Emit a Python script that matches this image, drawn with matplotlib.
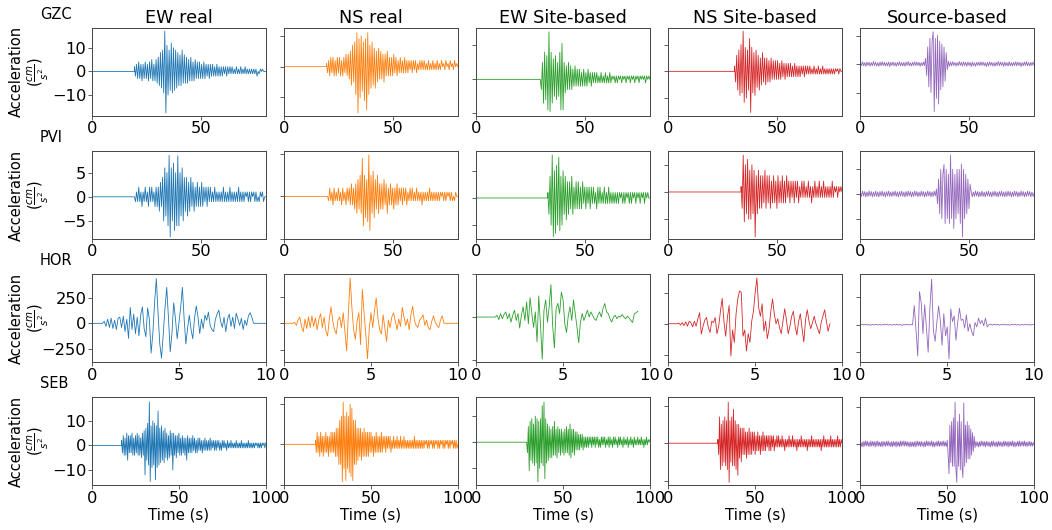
import numpy as np
import matplotlib.pyplot as plt

stations = ['GZC', 'PVI', 'HOR', 'SEB']
columns = ['EW real', 'NS real', 'EW Site-based', 'NS Site-based', 'Source-based']
colors = ['tab:blue', 'tab:orange', 'tab:green', 'tab:red', 'tab:purple']

x_end = [80, 80, 10, 100]
x_ticks = [[0, 50], [0, 50], [0, 5, 10], [0, 50, 100]]
y_step = [[10, 10, 10, 10, 10],
          [5, 10, 5, 5, 5],
          [250, 250, 250, 250, 250],
          [10, 10, 10, 10, 10]]
y_lims = [[(-18.7, 18.3), (-15.9, 12.5), (-10.7, 15.1), (-16.6, 16.2), (-18.1, 12.6)],
          [(-8.7, 9.45), (-8.4, 10.7), (-7.5, 8.6), (-8.6, 7.5), (-9.1, 8.7)],
          [(-375, 478), (-363, 462), (-262, 209), (-306, 397), (-337, 458)],
          [(-16.1, 19.6), (-10.1, 11.7), (-16.4, 17.2), (-11.1, 12.2), (-11, 12.5)]]

# ---- GZC (cm/s^2), samples every 0.5 s ----
gzc_ew = [2,-2,3,-3,4,-3,3,-4,3,-3, 4,-3,3,-4,4,-3,5,-4,3,-4,
          5,-5,6,-6,8,-7,9,-9,17,-17.5, 11,-10,9,-8,12,-9,10,-8,9,-7,
          8,-6,7,-6,9,-5,7,-5,6,-5, 5,-4,6,-4,4,-4,5,-3,4,-3,
          4,-3,3,-3,4,-3,3,-2,3,-3, 3,-2,3,-2,2,-2,3,-2,2,-2,
          2,-2,2,-1,2,-2,2,-1,2,-1, 2,-1,1,-1,2,-1,1,-1,2,-1,
          1,-1,2,-1,1,-1,1,-1,1,-1, 1,-1,1,-2,0,-1,1,0,1,0, 0,0]
gzc_ns = [1,-2,2,-3,3,-2,3,-3,2,-3, 3,-2,3,-3,2,-3,3,-2,4,-3,
          4,-4,5,-6,7,-5,8,-9,11,-15, 9,-10,10,-8,8,-11,9,-14,11,-9,
          7,-7,8,-6,6,-7,5,-5,6,-4, 5,-4,4,-5,4,-3,5,-3,3,-3,
          3,-3,4,-2,3,-3,2,-2,3,-2, 2,-2,3,-2,2,-2,2,-1,2,-2,
          2,-1,2,-2,1,-1,2,-1,2,-1, 2,-1,1,-1,2,-1,1,-1,2,-1,
          1,-1,2,-1,1,-1,2,0,1,-1, 2,0,1,-1,2,0,1,-1,2,0,1,0]
gzc_ews = [0,-3,5,-7,8,-6,7,-9,14,-9.5, 8,-7,6,-5,7,-6,5,-5,8,-9,
           10.6,-9,5,-4,4,-3,5,-3,4,-3, 3,-2,4,-2,3,-2,3,-2,2,-2,
           3,-2,2,-2,3,-1,2,-2,2,-1, 2,-1,2,-1,1,-1,2,-1,1,-1,
           2,-1,1,-1,2,-1,1,0,1,-1, 1,-1,1,0,1,-1,1,0,1,-1,
           1,0,1,-1,1,0,1,-1,1,0, 1,-1,1,0,1,0,1,-1,1,0,1,0]
gzc_nss = [2,-4,6,-7,8,-9,10,-8,15,-11.6, 9,-10,8,-7,12.3,-15.4,9,-8,7,-9,
           8,-6,6,-7,5,-5,7,-4,5,-5, 5,-4,4,-4,5,-3,4,-3,4,-3,
           4,-3,3,-3,4,-2,3,-3,3,-2, 3,-2,3,-2,2,-2,3,-2,2,-2,
           2,-2,2,-1,2,-2,2,-1,2,-1, 2,-1,1,-1,2,-1,1,-1,2,-1,
           1,-1,2,-1,1,-1,1,-1,1,-1, 1,-1,1,-1,1,0,1,-1,1,0,0]
gzc_src = [.6,-.5,.8,-.6,.5,-.8,.7,-.5,.6,-.7, .5,-.6,.9,-.5,.6,-.7,.5,-.8,.7,-.6,
           .8,-.5,.6,-.7,.5,-.6,.7,-.9,.6,-.5, .7,-.6,.5,-.8,.6,-.5,.8,-.6,.5,-.7,
           .6,-.8,.7,-.5,.9,-.6,.5,-.7,.6,-.5, .8,-.6,.7,-.5,.6,-.8,.5,-.6,.7,-.6,
           2,-4,6,-8,9,-10,8,11.3,-16.7,9, -12,10,-14,8,-9,7,-8,6,-6,4,
           -2,1,-.8,.7,-.6,.8,-.5,.6,-.7,.5, -.6,.9,-.5,.6,-.7,.8,-.5,.6,-.8,.7,
           -.5,.6,-.9,.7,-.6,.5,-.8,.6,-.5,.7, -.6,.8,-.5,.7,-.6,.5,-.9,.6,-.7,.8,
           -.5,.6,-.7,.5,-.8,.6,-.5,.9,-.6,.7, -.5,.6,-.8,.7,-.6,.5,-.7,.8,-.6,.5,
           -.7,.6,-.5,.8,-.6,.7,-.5,.6,-.9,.5, -.6,.7,-.5,.8,-.6,.5,-.7,.6,-.5,.7, -.4]

# ---- PVI (cm/s^2), samples every 0.5 s ----
pvi_ew = [0,-1,1,-1,2,-1,1,-2,1,-1, 2,-1,1,-2,2,-1,2,-1,1,-2,
          2,-2,2,-3,3,-2,4,-5,6,-4, 5,-6,8.6,-8.3,6,-5,7,-7,5,-6,
          8.5,-6,5,-4,6,-5,4,-3,4,-4, 3,-3,4,-2,3,-3,2,-2,3,-2,
          2,-2,3,-2,2,-1,2,-2,2,-1, 2,-1,1,-1,2,-1,1,-1,1,-1,
          1,-1,2,-1,1,-1,1,-1,2,-1, 1,-1,1,-1,1,-1,2,-1,1,-1,
          1,-1,1,0,1,-1,1,-1,1,0, 1,-1,1,-1,0,-1,1,0,1,-1,0,0]
pvi_ns = [0,-1,2,-1,1,-2,2,-1,1,-1, 2,-1,1,-2,2,-1,1,-2,2,-1,
          2,-2,3,-2,2,-3,3,-4,4,-3, 5,-4,9,-7,5,-5,4,-6,9.8,-8,
          5,-4,6,-5,4,-3,5,-4,3,-3, 3,-3,4,-2,3,-4,2,-2,3,-2,
          2,-3,2,-2,3,-2,2,-1,2,-2, 2,-1,2,-2,1,-1,2,-1,2,-1,
          1,-1,2,-1,1,-1,1,-2,1,-1, 1,-1,1,-1,2,-1,1,-1,1,-1,
          1,-1,1,-1,1,0,1,-1,1,-1, 1,0,1,-1,1,-1,0,-1,1,0,0]
pvi_ews = [1,-3,4,-5,7.9,-7.1,5,-6.5,6,-5, 7.5,-6,4,-5,5,-3,4,-4,3,-3,
           3,-2,4,-3,2,-2,3,-2,3,-2, 2,-2,3,-1,2,-2,2,-1,2,-2,
           2,-1,2,-1,1,-2,2,-1,2,-1, 1,-1,2,-1,1,-1,2,-1,1,-1,
           1,-1,1,-1,1,-1,1,0,1,-1, 1,-1,1,0,1,-1,1,-1,1,0,
           1,-1,1,0,1,-1,1,0,1,-1, 1,0,1,0,0]
pvi_nss = [1,-3,6.75,-5.5,5,-4,6,-5,4,-5, 5,-4,4,-8.25,3,-4,4,-3,3,-3,
           3,-2,4,-3,3,-2,3,-3,2,-2, 3,-2,2,-3,3,-2,2,-2,3,-2,
           2,-2,3,-1,2,-2,2,-1,2,-2, 2,-1,2,-2,1,-1,2,-1,2,-1,
           1,-1,2,-1,1,-2,1,-1,2,-1, 1,-1,2,-1,1,-1,2,-1,1,-1,
           1,-1,1,-1,2,-1,1,0,1,-1, 1,0,1,0]
pvi_src = [.4,-.5,.6,-.4,.5,-.6,.4,-.5,.6,-.4, .5,-.6,.4,-.5,.6,-.5,.4,-.6,.5,-.4,
           .6,-.5,.4,-.6,.5,-.4,.6,-.5,.4,-.5, .5,-.4,.6,-.5,.4,-.6,.5,-.4,.6,-.5,
           .4,-.6,.5,-.5,.6,-.4,.5,-.6,.4,-.5, .6,-.4,.5,-.6,.4,-.5,.6,-.4,.5,-.6,
           .4,-.5,.6,-.4,.5,-.6,.4,-.5,.6,-.4,
           1,-2,3,-4,5,-5,4,6,-6,5, -5,4,-6,7.9,-5,5,-7,4,-5,5,
           -4,5,-6,6.1,-8.7,5,-5,4,-4,3, -3,2,
           .5,-.6,.4,-.5,.6,-.4,.5,-.6,.4,-.5, .6,-.5,.4,-.6,.5,-.4,.6,-.5,.4,-.6,
           .5,-.4,.6,-.5,.4,-.6,.5,-.4,.6,-.5, .4,-.6,.5,-.5,.6,-.4,.5,-.6,.4,-.5,
           .6,-.4,.5,-.6,.4,-.5,.6,-.4,.5,-.6, .4,-.5,.6,-.4,.5,-.6,.4,-.5,.2]

# ---- HOR (cm/s^2), samples every 0.1 s ----
hor_ew = [0,20,-30,40,-40,50,-50,30,-60,50, 60,-40,70,-80,40,-146,155,-60,90,-100,
          60,-120,80,160,-50,-130,150,40,-290,-100, 200,436,100,-200,-339,-100,150,350,50,-276,
          -100,200,50,-150,0,150,350,50,-200,-50, 80,-60,-150,50,170,60,-100,40,-50,80,
          30,110,-20,-60,-80,40,90,130,20,-40, 60,-80,40,90,-30,60,-50,100,40,-20,
          50,-60,30,-20,70,104,60,0]
hor_ns = [0,10,-20,30,60,-30,-80,40,-50,60, -40,70,-30,50,-60,40,90,-40,60,-70,
          -120,40,156,20,-60,-100,30,60,-40,100, -80,-260,100,427,150,-60,-150,20,100,-200,
          320,100,-100,-334,-50,100,-40,120,240,50, -60,-100,80,-50,-170,30,-40,60,100,20,
          -60,40,-30,150,60,-20,40,-60,80,160, 30,-20,-40,30,50,80,-20,30,-40,-60,
          20,70,10,-20,-40,30,70,0]
hor_ews = [0,10,-15,20,-10,15,30,-10,20,-30, 10,40,-20,20,-64,10,60,-20,88,-40,
           114,20,-60,30,-145,123,-50,-246,40,100, -30,60,189,-50,-180,50,80,20,146,100,
           -40,-90,10,60,-20,100,20,-60,-150,-30, 20,-20,10,40,0,30,10,-10,-20,10,
           30,0,50,79,30,20,-10,-30,0,10, -10,5,0,15,0,-10,5,-5,-20,-32,
           20,25,34]
hor_nss = [0,5,-10,10,-15,15,-20,20,10,-25, 20,-20,40,88,-83,-20,30,50,-30,-70,
           20,10,50,-80,-20,100,203,20,-100,50, 146,-258,-50,-150,80,200,263,250,-100,-50,
           -219,-80,-150,20,100,250,367,130,60,160, -60,20,-120,-40,100,198,80,0,40,-30,
           -80,20,120,30,-80,-20,60,100,-20,-90, 20,80,-40,-146,30,112,20,-40,10,60,
           0,-40,-80,10,60,112,20,-60,0]
hor_src = [0,3,-2,4,-3,2,-4,3,-2,4, -3,2,-4,3,-2,5,-3,2,-4,3,
           -2,4,-3,2,-5,3,-2,4,-3,2, 0,174,-50,-284,300,200,-80,180,-30,-250,
           150,413,-50,-150,20,170,40,-186,100,-100, -20,-310,144,30,80,-140,20,150,40,50,
           -30,90,-60,10,-60,-100,20,-20,60,10, 40,-10,60,-20,0,5,-3,4,-2,3,
           -4,3,-2,5,-3,2,-4,3,-2,4, -3,2,-4,3,-2,5,-3,2,-3,2,0]

# ---- SEB (cm/s^2), samples every 0.5 s ----
seb_ew = [2,-3,4,-4,3,-4,5,-6,4,-3, 4,-3,5,-4,3,-4,4,-3,5,-4,
          4,-4,3,-5,5,-4,6,-12,7,-6, 9,-8,17.7,-14.7,8,-9,10,-8,9,-14,
          8,-9,14,-8,7,-7,8,-6,6,-7, 7,-5,5,-6,4,-5,6,-4,5,-10,
          5,-4,4,-5,4,-3,5,-4,3,-4, 4,-3,3,-4,3,-6,4,-3,3,-3,
          3,-3,4,-2,3,-3,2,-3,3,-2, 3,-2,2,-3,2,-2,3,-2,2,-2,
          2,-2,3,-2,2,-1,2,-2,2,-2, 2,-1,2,-2,1,-2,2,-1,2,-1,
          1,-2,2,-1,1,-1,2,-1,1,-1, 1,-1,2,-1,1,-1,1,-1,2,-1,
          1,-1,1,-1,1,-1,2,-1,1,-1, 1,-1,1,-1,1,0,1,-1,1,-1,
          1,-1,1,0,1,-1,1]
seb_ns = [1,-2,3,-2,2,-3,3,-2,2,-3, 2,-2,3,-2,2,-3,2,-2,3,-2,
          3,-2,3,-3,4,-3,4,-5,6,-5, 7,-9.3,10.5,-6,7,-9,8,-6,7,-7,
          10,-8,9,-9,6,-5,6,-5,4,-4, 4,-3,4,-4,3,-3,4,-3,3,-3,
          3,-3,3,-2,3,-2,2,-3,2,-2, 3,-2,2,-2,2,-2,3,-2,2,-1,
          2,-2,2,-1,2,-1,2,-2,1,-1, 2,-1,1,-1,2,-1,1,-1,2,-1,
          1,-1,2,-1,1,-1,1,-1,1,-1, 1,-1,1,-1,2,-1,1,-1,1,-1,
          1,-1,1,-1,1,-1,1,0,1,-1, 1,-1,1,0,1,-1,1,-1,1,0,
          1,-1,1,-1,1,0,1,-1,1,-1, 1,0,1,-1,1,-1,1,0,1,-1,
          1,-1,1,-1,0]
seb_ews = [0,-4,6,-11,8,-7,9,-8,7,-9, 10,-8,9,-15.2,8,-10,9,-8,14,-9,
           15.4,-14,9,-8,7,-7,6,-6,5,-6, 6,-5,8,-5,5,-6,6,-4,5,-5,
           5,-4,4,-5,5,-4,6,-4,5,-5, 7,-6,5,-4,5,-5,4,-3,4,-3,
           3,-3,3,-2,3,-3,2,-2,2,-2, 2,-2,2,-1,2,-2,2,-1,2,-2,
           2,-1,2,-2,1,-2,2,-1,2,-1, 2,-2,1,-1,2,-2,2,-1,1,-2,
           2,-1,2,-1,1,-2,2,-1,2,-1, 1,-2,2,-1,1,-1,2,-2,1,-1,
           2,-1,1,-2,2,-1,1,-1,2,-1, 1,-1,2,-1,1,-2,1,-1,2,-1,
           1,0,1]
seb_nss = [1,-3,7,-7,5,-6,6,-5,7,-6, 6,-7,10.9,-10.4,6,-5,7,-6,9,-6,
           6,-7,5,-8.5,5,-4,4,-5,4,-3, 4,-3,3,-4,3,-3,4,-3,3,-3,
           3,-2,3,-3,2,-2,3,-2,2,-3, 2,-2,3,-2,2,-2,2,-1,2,-2,
           2,-2,2,-1,2,-2,1,-1,2,-1, 2,-1,1,-1,2,-1,1,-2,1,-1,
           1,-1,2,-1,1,-1,2,-1,1,-1, 1,-2,1,-1,1,-1,2,-1,1,-1,
           1,-1,1,-2,1,-1,1,-1,2,-1, 1,-1,1,-1,1,-1,1,-1,1,-2,
           1,-1,2,-1,1,-1,1,-1,1,-1, 2,-1,1,-1,1,-1,1,-1,2,-1,
           1,-1,1,0]
seb_src = [.6,-.7,.5,-.8,.7,-.6,.8,-.5,.7,-.6, .5,-.7,.8,-.6,.7,-.5,.6,-.8,.7,-.6,
           .8,-.6,.5,-.7,.6,-.8,.7,-.5,.6,-.7, .7,-.5,.8,-.6,.5,-.7,.6,-.8,.7,-.5,
           .6,-.8,.7,-.6,.5,-.7,.8,-.6,.7,-.5, .8,-.6,.7,-.5,.6,-.7,.5,-.8,.6,-.7,
           .5,-.7,.6,-.8,.7,-.6,.8,-.5,.6,-.7, .7,-.6,.5,-.8,.6,-.7,.8,-.5,.7,-.6,
           .6,-.5,.8,-.7,.6,-.8,.5,-.6,.7,-.6, .8,-.7,.6,-.5,.7,-.6,.8,-.6,.5,-.7,
           1,-3,-8,5,-5,6,-6,7,-6,11.2, -7,-10.3,6,-6,8,-7,6,-6,-9,11,
           -6,5,-5,6,-4,5,-4,4,-3,3, -2,2,-1,
           .7,-.6,.5,-.8,.6,-.7,.8,-.5,.7,-.6, .6,-.8,.7,-.5,.6,-.7,.5,-.8,.7,-.6,
           .8,-.6,.5,-.7,.6,-.8,.7,-.5,.6,-.7, .5,-.7,.8,-.6,.7,-.5,.6,-.8,.7,-.6,
           .6,-.5,.8,-.7,.6,-.8,.5,-.6,.7,-.6, .8,-.7,.6,-.5,.7,-.6,.8,-.6,.5,-.7,
           .6,-.5,.7,-.6,.5,-.6,.4,-.3]

# (time of first sample, time of last sample, samples)
traces = [
    [(19.5, 80, gzc_ew), (19.5, 80, gzc_ns), (29.5, 80, gzc_ews), (30.5, 80, gzc_nss), (0, 80, gzc_src)],
    [(19.5, 80, pvi_ew), (20, 80, pvi_ns), (33, 80, pvi_ews), (33.5, 80, pvi_nss), (0, 80, pvi_src)],
    [(0.6, 9.3, hor_ew), (0.5, 9.2, hor_ns), (1.1, 9.3, hor_ews), (0.5, 9.3, hor_nss), (0, 10, hor_src)],
    [(17, 100, seb_ew), (18, 100, seb_ns), (29, 100, seb_ews), (28.5, 100, seb_nss), (0, 100, seb_src)],
]
# traces that return to rest before the end of the window
flat_end = {(2, 0), (2, 1)}

fig, axes = plt.subplots(4, 5, figsize=(10.52, 5.30), dpi=100)
fig.subplots_adjust(left=0.0875, right=0.983, top=0.947, bottom=0.085,
                    wspace=0.106, hspace=0.405)

for r in range(4):
    for c in range(5):
        ax = axes[r, c]
        t0, t1, vals = traces[r][c]
        # at rest (zero) before the first sample
        t = np.concatenate([[0, t0], np.linspace(t0, t1, len(vals))])
        y = np.concatenate([[0, 0], vals])
        if (r, c) in flat_end:
            t = np.append(t, x_end[r])
            y = np.append(y, 0)
        ax.plot(t, y, color=colors[c], lw=0.6)
        ax.set_xlim(0, x_end[r])
        ax.set_ylim(*y_lims[r][c])
        ax.set_xticks(x_ticks[r])
        s = y_step[r][c]
        ax.set_yticks([-s, 0, s])
        ax.tick_params(labelsize=11.7, length=2.6, width=0.6, pad=1.5,
                       color='#444444')
        for sp in ax.spines.values():
            sp.set_linewidth(0.7)
            sp.set_edgecolor('#444444')
        if c > 0:
            ax.tick_params(labelleft=False)
        else:
            ax.set_ylabel('Acceleration\n($\\frac{cm}{s^2}$)', fontsize=10.5,
                          linespacing=1.15)
            ax.yaxis.set_label_coords(-0.235, 0.5)
            ax.text(-0.30, 1.16, stations[r], transform=ax.transAxes,
                    fontsize=10.5, ha='left', va='center')
        if r == 0:
            ax.set_title(columns[c], fontsize=12.7, pad=4)
        if r == 3:
            ax.set_xlabel('Time (s)', fontsize=10.8, labelpad=1.5)

plt.savefig('out.png', dpi=100)
